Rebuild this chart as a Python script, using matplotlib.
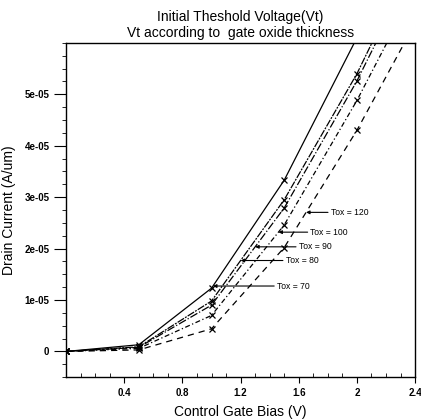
import numpy as np
import matplotlib
matplotlib.use("Agg")
import matplotlib.pyplot as plt
from matplotlib.ticker import MultipleLocator

plt.rcParams['font.family'] = ['Liberation Sans', 'DejaVu Sans']

# gate bias points (V)
bias = [0.0, 0.5, 1.0, 1.5, 2.0, 2.5]

# drain current (A/um) per oxide thickness
tox_labels = ["Tox = 70", "Tox = 80", "Tox = 90", "Tox = 100", "Tox = 120"]
i_70 = [0.0, 1.3e-06, 1.23e-05, 3.33e-05, 6.1e-05, 8.9e-05]
i_80 = [0.0, 0.9e-06, 0.98e-05, 2.95e-05, 5.4e-05, 8.3e-05]
i_90 = [0.0, 0.8e-06, 0.90e-05, 2.79e-05, 5.26e-05, 8.1e-05]
i_100 = [0.0, 0.6e-06, 0.70e-05, 2.46e-05, 4.88e-05, 7.6e-05]
i_120 = [0.0, 0.3e-06, 0.44e-05, 2.02e-05, 4.30e-05, 6.9e-05]
currents = [i_70, i_80, i_90, i_100, i_120]

# where each label arrow touches its curve, and where its text sits
arrow_v = [1.01, 1.2, 1.3, 1.46, 1.65]
text_v = [1.45, 1.51, 1.60, 1.68, 1.82]

styles = ['-', (0, (6, 1, 1.5, 1)), '-.', (0, (4, 2, 1, 2)), (0, (5, 4))]

fig = plt.figure(figsize=(4.21, 4.20), dpi=100)
ax = fig.add_axes([0.157, 0.102, 0.829, 0.796])

for cur, ls in zip(currents, styles):
    ax.plot(bias, cur, color='black', lw=0.9, ls=ls, marker='x', ms=4,
            mew=0.9)

for lab, cur, av, tv in zip(tox_labels, currents, arrow_v, text_v):
    y = np.interp(av, bias, cur)
    ax.annotate(lab, xy=(av, y), xytext=(tv, y), fontsize=6.2,
                va='center', ha='left',
                arrowprops=dict(arrowstyle='-|>', color='black', lw=0.8,
                                mutation_scale=5, shrinkA=0, shrinkB=0))

ax.set_xlim(0, 2.4)
ax.set_ylim(-5e-06, 6e-05)
ax.set_xticks([0.4, 0.8, 1.2, 1.6, 2.0, 2.4])
ax.set_xticklabels(['0.4', '0.8', '1.2', '1.6', '2', '2.4'], fontweight='bold')
ax.xaxis.set_minor_locator(MultipleLocator(0.1))
ax.set_yticks([0, 1e-05, 2e-05, 3e-05, 4e-05, 5e-05])
ax.set_yticklabels(['0', '1e-05', '2e-05', '3e-05', '4e-05', '5e-05'],
                   fontweight='bold')
ax.yaxis.set_minor_locator(MultipleLocator(2.5e-06))

ax.tick_params(axis='x', which='major', direction='out', length=4,
               labelsize=7, pad=4)
ax.tick_params(axis='x', which='minor', direction='in', length=3)
ax.tick_params(axis='y', which='major', direction='out', length=9,
               labelsize=7, pad=3)
ax.tick_params(axis='y', which='minor', direction='out', length=3)

for sp in ax.spines.values():
    sp.set_linewidth(1.0)

ax.set_xlabel('Control Gate Bias (V)', fontsize=10, labelpad=5)
ax.set_ylabel('Drain Current (A/um)', fontsize=10, labelpad=6)
ax.set_title('Initial Theshold Voltage(Vt)\nVt according to  gate oxide thickness',
             fontsize=10, pad=4, linespacing=1.2)

fig.savefig('out.png', dpi=100)
